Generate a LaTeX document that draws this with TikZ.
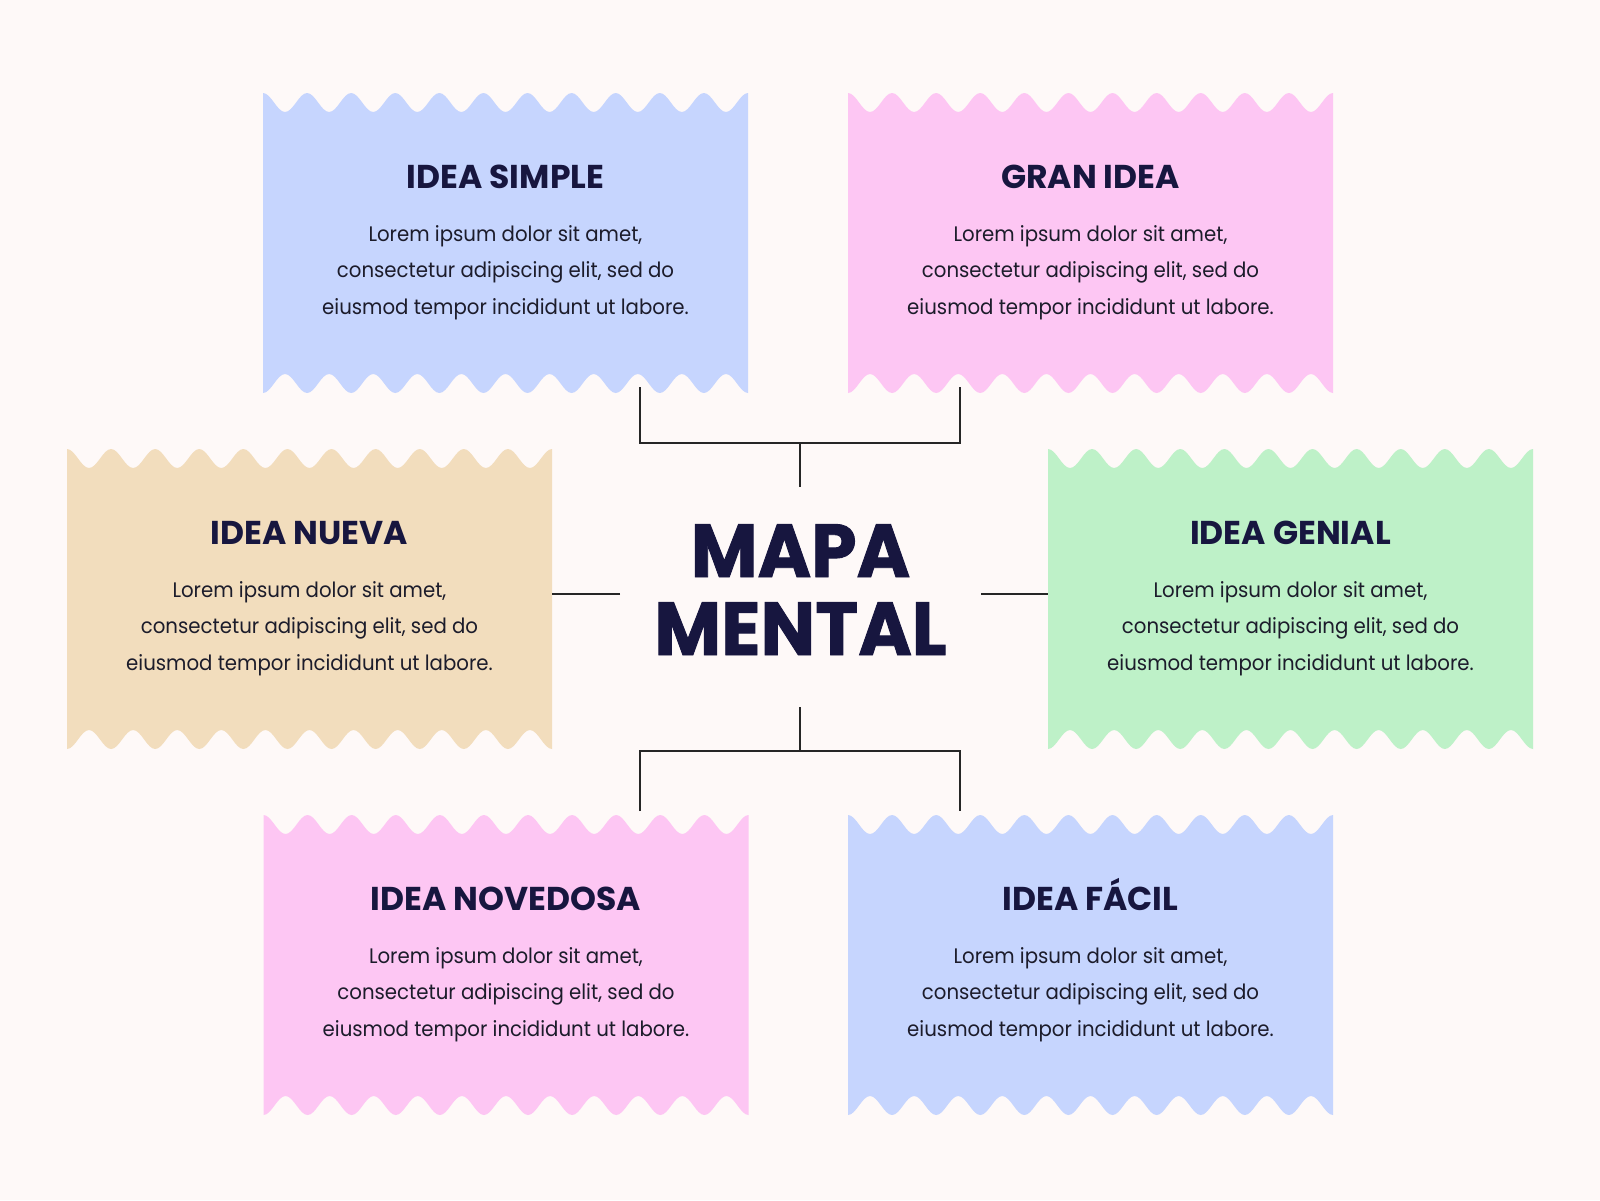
\documentclass[tikz,border=0pt]{standalone}
\usepackage{fontspec}
\setmainfont{Poppins}[FakeStretch=0.94]
\newfontfamily\titlefont{Poppins}
\newfontfamily\hubfont{Poppins}[FakeStretch=0.97,BoldFeatures={FakeBold=1.2}]
\definecolor{bgC}{HTML}{FEF9F8}
\definecolor{blueC}{HTML}{C6D5FE}
\definecolor{pinkC}{HTML}{FDC6F3}
\definecolor{tanC}{HTML}{F2DDBD}
\definecolor{greenC}{HTML}{BEF1C8}
\definecolor{navyC}{HTML}{17163F}
\definecolor{bodyC}{HTML}{1C1C2B}
\definecolor{lineC}{HTML}{262626}
\newcommand\wavybox[2]{%
  \fill[#2] (#1.north west)
    \foreach \i in {1,...,11}{cos ++(11.0227,9.5) sin ++(11.0227,9.5) cos ++(11.0227,-9.5) sin ++(11.0227,-9.5)}
    -- (#1.south east)
    \foreach \i in {1,...,11}{cos ++(-11.0227,-9.5) sin ++(-11.0227,-9.5) cos ++(-11.0227,9.5) sin ++(-11.0227,9.5)}
    -- cycle;}
\tikzset{
  boxarea/.style={minimum width=485pt, minimum height=300pt, inner sep=0pt, outer sep=0pt},
  ttl/.style={font=\titlefont\bfseries\fontsize{33}{36}\selectfont, text=navyC, anchor=base, inner sep=0pt},
  bodytxt/.style={font=\fontsize{21}{36.5}\selectfont, text=bodyC, align=center, anchor=base, inner sep=0pt},
  hubtxt/.style={font=\hubfont\bfseries\fontsize{75}{78}\selectfont, text=navyC, align=center, anchor=base, inner sep=0pt},
  conn/.style={draw=lineC, line width=1.8pt}
}
\begin{document}
\begin{tikzpicture}[x=1pt,y=-1pt]
\useasboundingbox (0,0) rectangle (1600,1200);
\fill[bgC] (0,0) rectangle (1600,1200);
% box areas
\node[boxarea] (b1) at (505.5,243) {};
\node[boxarea] (b2) at (1090.5,243) {};
\node[boxarea] (b3) at (309.5,599) {};
\node[boxarea] (b4) at (1290.5,599) {};
\node[boxarea] (b5) at (506,965) {};
\node[boxarea] (b6) at (1090.5,965) {};
\wavybox{b1}{blueC}
\wavybox{b2}{pinkC}
\wavybox{b3}{tanC}
\wavybox{b4}{greenC}
\wavybox{b5}{pinkC}
\wavybox{b6}{blueC}
% titles
\node[ttl] (t1) at (505.5,188.5) {IDEA SIMPLE};
\node[ttl] (t2) at (1090.5,188.5) {GRAN IDEA};
\node[ttl] (t3) at (309.5,544.5) {IDEA NUEVA};
\node[ttl] (t4) at (1290.5,544.5) {IDEA GENIAL};
\node[ttl] (t5) at (506,910.5) {IDEA NOVEDOSA};
\node[ttl] (t6) at (1090.5,910.5) {IDEA FÁCIL};
% bodies (anchor = baseline of last line)
\node[bodytxt] (d1) at (505.5,314) {Lorem ipsum dolor sit amet,\\consectetur adipiscing elit, sed do\\eiusmod tempor incididunt ut labore.};
\node[bodytxt] (d2) at (1090.5,314) {Lorem ipsum dolor sit amet,\\consectetur adipiscing elit, sed do\\eiusmod tempor incididunt ut labore.};
\node[bodytxt] (d3) at (309.5,670) {Lorem ipsum dolor sit amet,\\consectetur adipiscing elit, sed do\\eiusmod tempor incididunt ut labore.};
\node[bodytxt] (d4) at (1290.5,670) {Lorem ipsum dolor sit amet,\\consectetur adipiscing elit, sed do\\eiusmod tempor incididunt ut labore.};
\node[bodytxt] (d5) at (506,1036) {Lorem ipsum dolor sit amet,\\consectetur adipiscing elit, sed do\\eiusmod tempor incididunt ut labore.};
\node[bodytxt] (d6) at (1090.5,1036) {Lorem ipsum dolor sit amet,\\consectetur adipiscing elit, sed do\\eiusmod tempor incididunt ut labore.};
% hub
\node[hubtxt] (hub) at (800.5,655) {MAPA\\MENTAL};
\coordinate (jT) at (800,443);
\coordinate (hN) at (800,487);
\coordinate (jB) at (800,751);
\coordinate (hS) at (800,707);
\coordinate (hW) at (620,594);
\coordinate (hE) at (981,594);
% connectors
\draw[conn] ([xshift=134.5pt,yshift=6pt]b1.south) |- (jT) -| ([xshift=-130.5pt,yshift=6pt]b2.south);
\draw[conn] (jT) -- (hN);
\draw[conn] (hS) -- (jB);
\draw[conn] ([xshift=134pt,yshift=4pt]b5.north) |- (jB) -| ([xshift=-130.5pt,yshift=4pt]b6.north);
\draw[conn] (hW) -- (hW -| b3.east);
\draw[conn] (hE) -- (hE -| b4.west);
\end{tikzpicture}
\end{document}
